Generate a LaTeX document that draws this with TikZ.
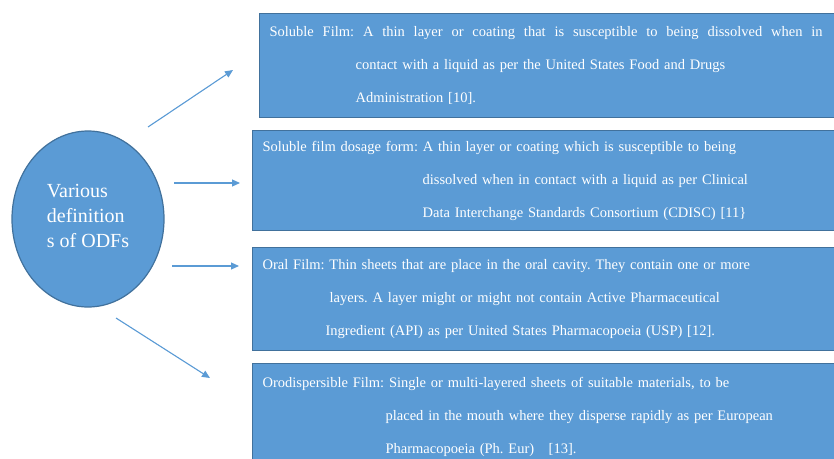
\documentclass[tikz,border=0pt]{standalone}
\usepackage{fontspec}
\setmainfont{Liberation Serif}
\usetikzlibrary{shapes.geometric,arrows.meta}
\definecolor{odfblue}{HTML}{5B9BD5}
\definecolor{odfedge}{HTML}{41719C}
\frenchspacing

\begin{document}
\begin{tikzpicture}[x=1pt, y=-1pt,
  defbox/.style={draw=odfedge, fill=odfblue, line width=1.2pt, anchor=north west, inner xsep=10pt, align=left, text=white, text width=570pt, font=\fontsize{14.5}{33}\selectfont},
  link/.style={-{Triangle[length=8pt,width=7pt]}, draw=odfblue, fill=odfblue, line width=1.1pt}]
\useasboundingbox (0,0) rectangle (834,458);

\node[ellipse, draw=odfedge, fill=odfblue, line width=1.2pt, minimum width=152pt, minimum height=176pt, align=left, text=white, text depth=6pt, font=\fontsize{20}{25}\selectfont] (odf) at (88,219) {Various\\definition\\s of ODFs};

\node[defbox, minimum height=104pt] (soluble) at (259,13) {\hbox to 553pt{\spaceskip=0.25em plus 1fil\relax Soluble Film: A thin layer or coating that is susceptible to being dissolved when in}\\\hspace*{86pt}contact with a liquid as per the United States Food and Drugs\\\hspace*{86pt}Administration [10].};
\node[defbox, minimum height=100pt] (dosage) at (252,130) {Soluble film dosage form: A thin layer or coating which is susceptible to being\\\hspace*{160pt}dissolved when in contact with a liquid as per Clinical\\\hspace*{160pt}Data Interchange Standards Consortium (CDISC) [11\}};
\node[defbox, minimum height=103pt] (oral) at (252,247) {Oral Film: Thin sheets that are place in the oral cavity. They contain one or more\\\hspace*{67pt}layers. A layer might or might not contain Active Pharmaceutical\\\hspace*{63pt}Ingredient (API) as per United States Pharmacopoeia (USP) [12].};
\node[defbox, minimum height=107pt] (orodisp) at (252,363) {Orodispersible Film: Single or multi-layered sheets of suitable materials, to be\\\hspace*{123pt}placed in the mouth where they disperse rapidly as per European\\\hspace*{123pt}Pharmacopoeia (Ph. Eur)\ \ \ [13].};

% arrow ends
\coordinate (from soluble) at (148,127);
\coordinate (to soluble) at (233,70);
\coordinate (from dosage) at (174,183);
\coordinate (to dosage) at (240,183);
\coordinate (from oral) at (172,266);
\coordinate (to oral) at (239,266);
\coordinate (from orodisp) at (116,318);
\coordinate (to orodisp) at (210,378);

\draw[link] (from soluble) -- (to soluble);
\draw[link] (from dosage) -- (to dosage);
\draw[link] (from oral) -- (to oral);
\draw[link] (from orodisp) -- (to orodisp);

\end{tikzpicture}
\end{document}
